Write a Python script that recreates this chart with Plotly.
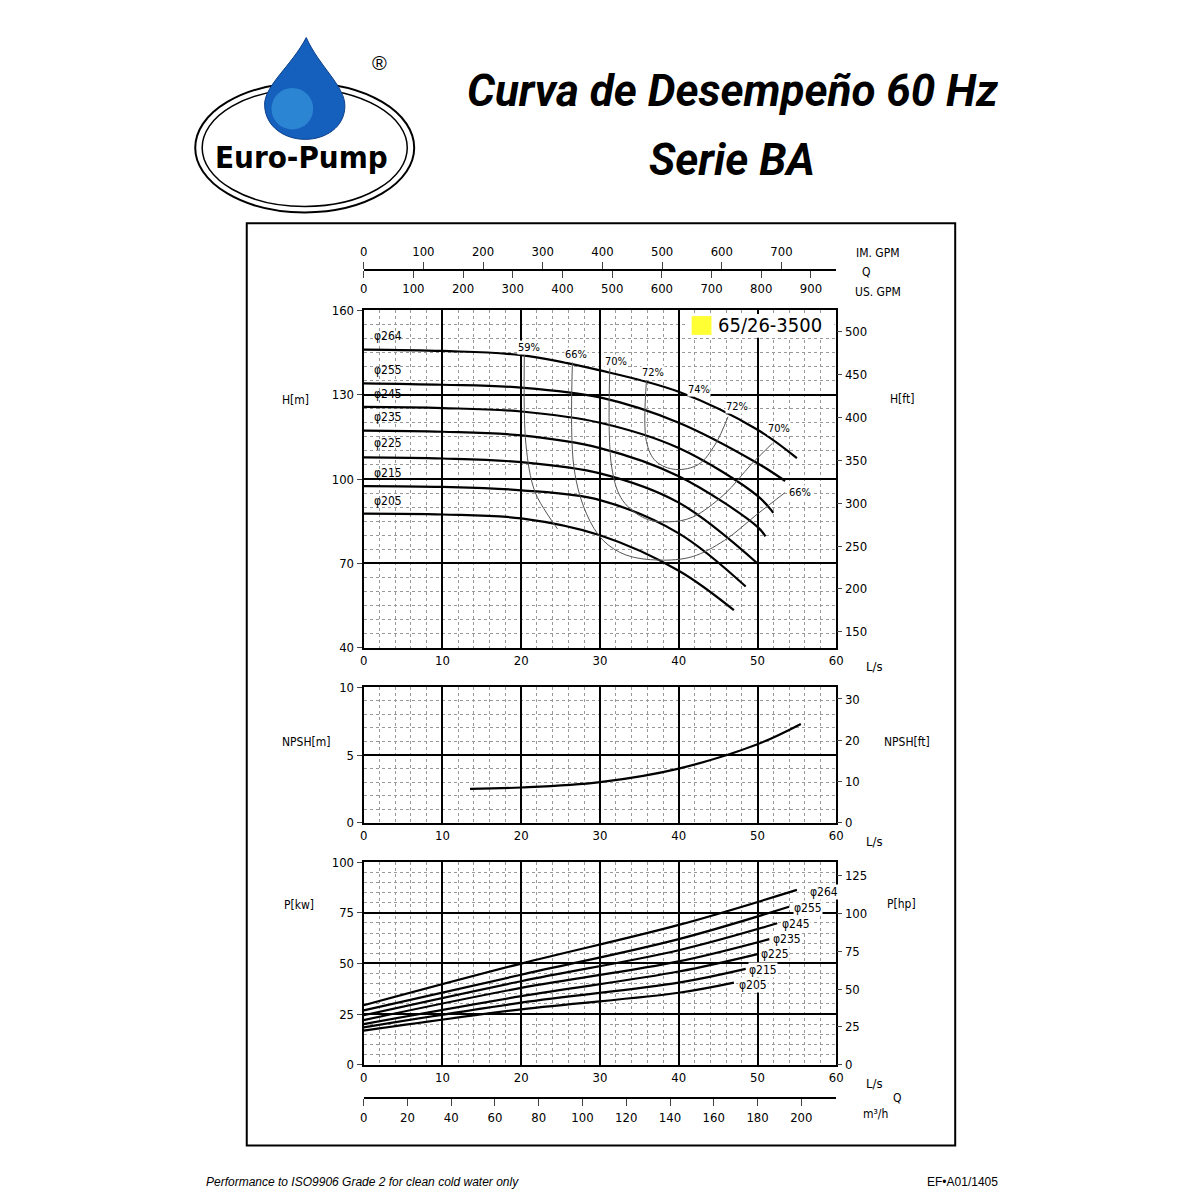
import plotly.graph_objects as go

# --- data (Q in L/s) ---
diam = ["\u03c6264", "\u03c6255", "\u03c6245", "\u03c6235", "\u03c6225", "\u03c6215", "\u03c6205"]

q_264 = [0, 10, 20, 30, 40, 50, 55]
h_264 = [146, 145.5, 144, 138.6, 131, 117.5, 107.4]
q_255 = [0, 10, 20, 30, 40, 50, 53.5]
h_255 = [134, 133.5, 132.5, 129, 120, 105.6, 99.3]
q_245 = [0, 10, 20, 30, 40, 50, 52]
h_245 = [125.6, 125.2, 124, 120, 111, 94, 88]
q_235 = [0, 10, 20, 30, 40, 50, 51]
h_235 = [117.2, 116.8, 115.5, 111, 101, 83, 79.6]
q_225 = [0, 10, 20, 30, 40, 50]
h_225 = [107.7, 107.3, 106, 102, 91.6, 70]
q_215 = [0, 10, 20, 30, 40, 48.5]
h_215 = [97.5, 97.2, 96, 92.5, 80.7, 61.8]
q_205 = [0, 10, 20, 30, 40, 47]
h_205 = [87.7, 87.4, 86, 80, 67.4, 53.4]

# efficiency contours
eff59_q = [20.4, 20.6, 21.7, 23.3, 24.6]
eff59_h = [144.3, 112.2, 95.8, 87.6, 82.3]
eff66_q = [26.5, 26.7, 28.3, 30.4, 33.3, 37.5, 41.7, 45.8, 50, 53.5]
eff66_h = [141.4, 104, 87.6, 78.2, 73, 71.2, 72.4, 78.2, 87.6, 95.2]
eff70_q = [31.25, 31.5, 32.9, 35.8, 38.75, 41.7, 45.8, 49.2, 51.9]
eff70_h = [139.6, 104, 92.3, 85.9, 84.8, 86.4, 94.6, 105.2, 112.7]
eff72_q = [35.9, 35.9, 37.1, 39.6, 42.5, 44.6, 46.25]
eff72_h = [135, 113.3, 106.3, 103.4, 105.2, 112.2, 122.1]
eff_labels = ["59%", "66%", "70%", "72%", "74%", "72%", "70%", "66%"]
eff_lab_q = [21, 26.9, 32, 36.7, 42.6, 47.4, 52.7, 55.4]
eff_lab_h = [146.9, 144.1, 141.8, 137.9, 131.8, 125.9, 117.9, 95.3]

# NPSH
npsh_q = [13.5, 20, 30, 40, 50, 55.5]
npsh_m = [2.5, 2.6, 3.0, 4.0, 5.8, 7.3]

# power (kW)
p_264_q = [0, 20, 40, 55]
p_264 = [29.3, 49.9, 69, 86.3]
p_255_q = [0, 20, 40, 54]
p_255 = [26.8, 44.4, 62, 78]
p_245_q = [0, 20, 40, 52.5]
p_245 = [24.4, 41.2, 56.5, 69.8]
p_235_q = [0, 20, 40, 51.5]
p_235 = [22, 37.9, 51, 62]
p_225_q = [0, 20, 40, 50]
p_225 = [20, 33.8, 46, 54.6]
p_215_q = [0, 20, 40, 48.5]
p_215 = [18.4, 30.6, 40.5, 47.3]
p_205_q = [0, 20, 40, 47]
p_205 = [16.8, 27.3, 35.5, 40.5]


def px(x):
    return x / 1200


def py(y):
    return 1 - y / 1200


FONT = "Liberation Sans Narrow, DejaVu Sans Condensed, Arial Narrow, sans-serif"
fig = go.Figure()

head = [(q_264, h_264), (q_255, h_255), (q_245, h_245), (q_235, h_235),
        (q_225, h_225), (q_215, h_215), (q_205, h_205)]
for q, h in head:
    fig.add_trace(go.Scatter(x=q, y=h, mode="lines", line=dict(color="black", width=2.2, shape="spline"),
                             xaxis="x", yaxis="y", showlegend=False, hoverinfo="skip"))
for q, h in [(eff59_q, eff59_h), (eff66_q, eff66_h), (eff70_q, eff70_h), (eff72_q, eff72_h)]:
    fig.add_trace(go.Scatter(x=q, y=h, mode="lines", line=dict(color="#555", width=1, shape="spline"),
                             xaxis="x", yaxis="y", showlegend=False, hoverinfo="skip"))
fig.add_trace(go.Scatter(x=npsh_q, y=npsh_m, mode="lines", line=dict(color="black", width=2.2, shape="spline"),
                         xaxis="x2", yaxis="y3", showlegend=False))
power = [(p_264_q, p_264), (p_255_q, p_255), (p_245_q, p_245), (p_235_q, p_235),
         (p_225_q, p_225), (p_215_q, p_215), (p_205_q, p_205)]
for q, p in power:
    fig.add_trace(go.Scatter(x=q, y=p, mode="lines", line=dict(color="black", width=2.2, shape="spline"),
                             xaxis="x3", yaxis="y5", showlegend=False))

xd = [px(363), px(840)]
tf = dict(family=FONT, size=13, color="black")


def xax(anchor, y_dom):
    return dict(domain=xd, anchor=anchor, range=[0, 60], dtick=10, showline=True, mirror=True,
                linecolor="black", linewidth=2, ticks="", showgrid=True, gridcolor="black", gridwidth=2,
                minor=dict(dtick=2, showgrid=True, gridcolor="#999", griddash="dot", gridwidth=1),
                zeroline=False, tickfont=tf)


def yax(anchor, dom, rng, dtick, mdtick):
    return dict(domain=dom, anchor=anchor, range=rng, dtick=dtick, tick0=rng[0], showline=True, mirror=True,
                linecolor="black", linewidth=2, ticks="outside", ticklen=5, showgrid=True, gridcolor="black",
                gridwidth=2, minor=dict(dtick=mdtick, tick0=rng[0], showgrid=True, gridcolor="#999",
                                        griddash="dot", gridwidth=1),
                zeroline=False, tickfont=tf)


def yright(over, anchor, dom, rng, vals):
    return dict(domain=dom, overlaying=over, anchor=anchor, side="right", range=rng, tickvals=vals,
                showgrid=False, ticks="outside", ticklen=5, showline=False, zeroline=False, tickfont=tf)


dH = [py(649), py(307)]
dN = [py(826), py(689)]
dP = [py(1071), py(866)]
M2FT = 3.2808
KW2HP = 1.341

fig.update_layout(
    width=1200, height=1200, margin=dict(l=0, r=0, t=0, b=0),
    paper_bgcolor="white", plot_bgcolor="white",
    xaxis=xax("y", dH), yaxis=yax("x", dH, [40, 160], 30, 5),
    yaxis2=yright("y", "x", dH, [40 * M2FT, 160 * M2FT], list(range(150, 501, 50))),
    xaxis2=xax("y3", dN), yaxis3=yax("x2", dN, [0, 10], 5, 1),
    yaxis4=yright("y3", "x2", dN, [0, 10 * M2FT], [0, 10, 20, 30]),
    xaxis3=xax("y5", dP), yaxis5=yax("x3", dP, [0, 100], 25, 5),
    yaxis6=yright("y5", "x3", dP, [0, 100 * KW2HP], [0, 25, 50, 75, 100, 125]),
    xaxis4=dict(overlaying="x", anchor="free", position=py(266), side="top", range=[0, 60 * 13.198],
                tickvals=list(range(0, 701, 100)), ticks="outside", ticklen=7, showline=True,
                linecolor="black", linewidth=2, showgrid=False, zeroline=False, tickfont=tf),
    xaxis5=dict(overlaying="x", anchor="free", position=py(266), side="bottom", range=[0, 60 * 15.85],
                tickvals=list(range(0, 901, 100)), ticks="outside", ticklen=7, showline=True,
                linecolor="black", linewidth=2, showgrid=False, zeroline=False, tickfont=tf),
    xaxis6=dict(overlaying="x", anchor="free", position=py(1105), side="bottom", range=[0, 60 * 3.6],
                tickvals=list(range(0, 201, 20)), ticks="outside", ticklen=7, showline=True,
                linecolor="black", linewidth=2, showgrid=False, zeroline=False, tickfont=tf),
)
# dummy traces so overlay axes render
for ax in ["x4", "x5", "x6"]:
    fig.add_trace(go.Scatter(x=[0], y=[None], xaxis=ax, yaxis="y", showlegend=False, hoverinfo="skip"))
for ax, y in [("y2", "x"), ("y4", "x2"), ("y6", "x3")]:
    fig.add_trace(go.Scatter(x=[None], y=[0], xaxis=y, yaxis=ax, showlegend=False, hoverinfo="skip"))

ann = []


def ptext(x, y, t, size=12, xa="center", fam=FONT):
    ann.append(dict(x=px(x), y=py(y), xref="paper", yref="paper", text=t, showarrow=False,
                    xanchor=xa, yanchor="middle", font=dict(family=fam, size=size, color="black")))


# diameter labels on head curves
lab_h = [147.5, 135.5, 127, 119, 109.5, 99, 89]
for d, h in zip(diam, lab_h):
    ann.append(dict(x=1, y=h, xref="x", yref="y", text=d, showarrow=False, xanchor="left", yanchor="bottom",
                    font=dict(family=FONT, size=12, color="black")))
for t, q, h in zip(eff_labels, eff_lab_q, eff_lab_h):
    ann.append(dict(x=q, y=h, xref="x", yref="y", text=t, showarrow=False,
                    font=dict(family=FONT, size=11, color="black"), bgcolor="white", borderpad=0))
# power labels
p_lab_q = [56.5, 54.5, 53, 51.8, 50.3, 48.8, 47.5]
p_lab_p = [85.4, 77.6, 69.3, 61.9, 54.6, 46.8, 39.5]
for d, q, p in zip(diam, p_lab_q, p_lab_p):
    ann.append(dict(x=q, y=p, xref="x3", yref="y5", text=d, showarrow=False, xanchor="left",
                    font=dict(family=FONT, size=12, color="black"), bgcolor="white", borderpad=0))

ptext(294, 398, "H[m]")
ptext(906, 397, "H[ft]")
ptext(305, 744, "NPSH[m]")
ptext(911, 744, "NPSH[ft]")
ptext(298, 909, "P[kw]")
ptext(906, 908, "P[hp]")
for yy in [668, 845, 1090]:
    ptext(879, yy, "L/s", 13)
ptext(882, 249, "IM. GPM")
ptext(870, 268, "Q")
ptext(882, 289, "US. GPM")
ptext(902, 1105, "Q")
ptext(880, 1121, "m\u00b3/h")
ptext(773, 322, "65/26-3500", 20)

TF = "Roboto, Liberation Sans, sans-serif"
ptext(735, 85, "<b><i>Curva de Desempeño 60 Hz</i></b>", 44, fam=TF)
ptext(735, 155, "<b><i>Serie BA</i></b>", 44, fam=TF)
ptext(202, 1190, "<i>Performance to ISO9906 Grade 2 for clean cold water only</i>", 12, xa="left",
      fam="Liberation Sans, Arial, sans-serif")
ptext(1005, 1190, "EF\u2022A01/1405", 12, xa="right", fam="Liberation Sans, Arial, sans-serif")
# logo text
ptext(300, 152, "<b>Euro-Pump</b>", 31, fam="DejaVu Sans Condensed, sans-serif")
ptext(379, 57, "\u00ae", 20, fam="Liberation Sans, sans-serif")
fig.update_layout(annotations=ann)

shapes = [
    dict(type="rect", xref="paper", yref="paper", x0=px(245), x1=px(960), y0=py(219), y1=py(1153),
         line=dict(color="black", width=2)),
    dict(type="rect", xref="paper", yref="paper", x0=px(688), x1=px(838), y0=py(311), y1=py(335),
         fillcolor="white", line=dict(width=0)),
    dict(type="rect", xref="paper", yref="paper", x0=px(694), x1=px(714), y0=py(313), y1=py(332),
         fillcolor="#ffff33", line=dict(width=0)),
    dict(type="circle", xref="paper", yref="paper", x0=px(193), x1=px(414), y0=py(77), y1=py(208),
         line=dict(color="black", width=2)),
    dict(type="circle", xref="paper", yref="paper", x0=px(200), x1=px(407), y0=py(83), y1=py(202),
         line=dict(color="black", width=1.5)),
]


def pth(pts):
    return " ".join(f"{c} {px(x):.4f},{py(y):.4f}" if c in "ML" else
                    f"{c} {px(x):.4f},{py(y):.4f} {px(x2):.4f},{py(y2):.4f} {px(x3):.4f},{py(y3):.4f}"
                    for c, x, y, x2, y2, x3, y3 in pts)


drop = pth([("M", 305, 31, 0, 0, 0, 0),
            ("C", 290, 60, 262, 80, 263, 100),
            ("C", 264, 122, 284, 134, 304, 134),
            ("C", 324, 134, 344, 122, 344, 100),
            ("C", 344, 80, 318, 60, 305, 31)]) + " Z"
shapes.append(dict(type="path", xref="paper", yref="paper", path=drop, fillcolor="#1560bd",
                   line=dict(color="#0d3f8a", width=1)))
shapes.append(dict(type="circle", xref="paper", yref="paper", x0=px(270), x1=px(312), y0=py(82), y1=py(124),
                   fillcolor="rgba(70,180,235,0.45)", line=dict(width=0)))
fig.update_layout(shapes=shapes)

fig.write_html("out.html", config={"displayModeBar": False},
               post_script="document.body.style.margin='0';document.body.style.overflow='hidden';")
